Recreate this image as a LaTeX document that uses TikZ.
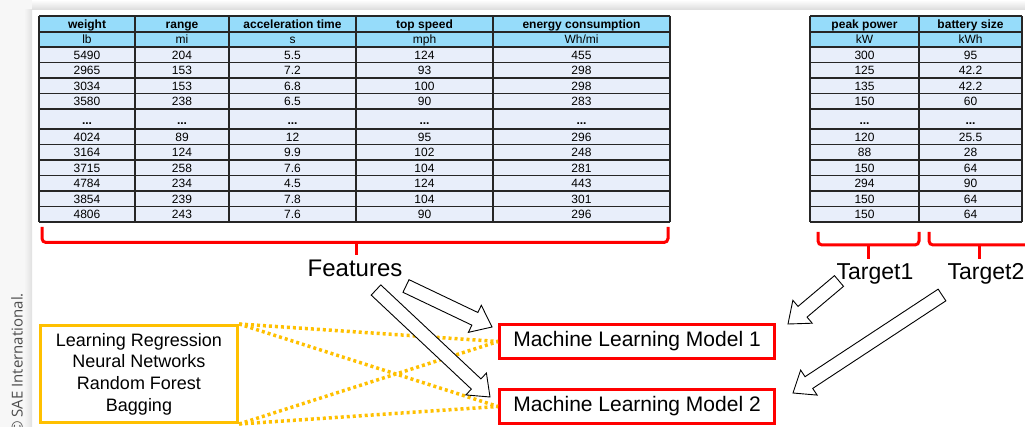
\documentclass[tikz,border=0pt]{standalone}
\usepackage{fontspec}
\setmainfont{Liberation Sans}
\newfontfamily\saefont{Open Sans}
\usetikzlibrary{calc}
\definecolor{hdblue}{RGB}{150,220,250}
\definecolor{rowblue}{RGB}{232,238,250}
\definecolor{sred}{RGB}{255,0,0}
\definecolor{sorange}{RGB}{255,192,0}
% white block arrow from #1 to #2
\newcommand\blockarrow[2]{%
  \coordinate (ah) at ($(#2)!19pt!(#1)$);
  \draw[fill=white,line width=0.9pt,line join=miter]
    ($(#1)!7pt!90:(#2)$) -- ($(ah)!7pt!-90:(#1)$) -- ($(ah)!15pt!-90:(#1)$) -- (#2)
    -- ($(ah)!15pt!90:(#1)$) -- ($(ah)!7pt!90:(#1)$) -- ($(#1)!7pt!-90:(#2)$) -- cycle;}
\begin{document}
\begin{tikzpicture}[x=1pt,y=-1pt,
    cell/.style={anchor=base,inner sep=0pt,font=\fontsize{12}{14}\selectfont},
    head/.style={cell,font=\fontsize{12}{14}\selectfont\bfseries},
    bigtext/.style={anchor=base,inner sep=0pt,font=\fontsize{24}{28}\selectfont},
    model/.style={draw=sred,line width=3pt,minimum width=275pt,minimum height=34pt,inner sep=0pt,font=\fontsize{21}{25}\selectfont},
    brace/.style={draw=sred,line width=3pt,rounded corners=4pt},
    grid/.style={draw=black!85,line width=1.3pt},
    dotline/.style={draw=sorange,line width=3.5pt,dash pattern=on 3pt off 3pt}]
  \useasboundingbox (0,0) rectangle (1025,427);
  % page margins
  \fill[black!3] (0,0) rectangle (32,427);
  \shade[left color=black!3,right color=black!12] (24,10) rectangle (32,427);
  \shade[top color=white,bottom color=black!14] (32,0) rectangle (1025,10);
  \node[rotate=90,anchor=base west,inner sep=0pt,text=black!70,font=\fontsize{15}{17}\selectfont\saefont] (sae) at (22.5,434) {© SAE International.};

  % feature table
  \fill[hdblue] (39,16) rectangle (670,47);
  \fill[rowblue] (39,47) rectangle (670,222);
  % target table
  \fill[hdblue] (810,16) rectangle (1022,47);
  \fill[rowblue] (810,47) rectangle (1022,222);
  \foreach \y in {16,32,47,62.5,78,93.5,109,129,144.5,160,175.5,191,206.5,222}{
    \draw[grid] (39,\y) -- (670,\y);
    \draw[grid] (810,\y) -- (1022,\y);
  }
  \foreach \x in {39,135,229,356,493,670,810,919,1022}
    \draw[grid] (\x,16) -- (\x,222);

  \foreach \xx/\h/\u [count=\i] in {87/weight/lb,182/range/mi,292.5/acceleration time/s,
      424.5/top speed/mph,581.5/energy consumption/{Wh/mi},864.5/peak power/kW,970.5/battery size/kWh}{
    \node[head] (h-\i) at (\xx,28.5) {\h};
    \node[cell] (u-\i) at (\xx,43.5) {\u};
    \node[head] (dots-\i) at (\xx,125) {...};
  }
  \foreach \yy/\a/\b/\c/\d/\e/\f/\g [count=\i] in {
      59.5/5490/204/5.5/124/455/300/95,
      75/2965/153/7.2/93/298/125/42.2,
      90.5/3034/153/6.8/100/298/135/42.2,
      106/3580/238/6.5/90/283/150/60,
      141.5/4024/89/12/95/296/120/25.5,
      157/3164/124/9.9/102/248/88/28,
      172.5/3715/258/7.6/104/281/150/64,
      188/4784/234/4.5/124/443/294/90,
      203.5/3854/239/7.8/104/301/150/64,
      219/4806/243/7.6/90/296/150/64}{
    \node[cell] (wt-\i) at (87,\yy) {\a};
    \node[cell] (rg-\i) at (182,\yy) {\b};
    \node[cell] (ac-\i) at (292.5,\yy) {\c};
    \node[cell] (ts-\i) at (424.5,\yy) {\d};
    \node[cell] (ec-\i) at (581.5,\yy) {\e};
    \node[cell] (pp-\i) at (864.5,\yy) {\f};
    \node[cell] (bs-\i) at (970.5,\yy) {\g};
  }

  % braces
  \draw[brace] (42,227) -- (42,242.5) -- (668,242.5) -- (668,227);
  \draw[brace] (356,242.5) -- (356,255);
  \draw[brace] (818,232) -- (818,245) -- (919,245) -- (919,232);
  \draw[brace] (868,245) -- (868,259);
  \draw[brace] (929,232) -- (929,245) -- (1040,245) -- (1040,232);
  \draw[brace] (979,245) -- (979,259);

  \node[bigtext] (feat) at (355,277) {Features};
  \node[bigtext,font=\fontsize{23}{27}\selectfont] (tg1) at (875,280) {Target1};
  \node[bigtext,font=\fontsize{23}{27}\selectfont] (tg2) at (986,280) {Target2};

  \node[model] (mlm1) at (637,341.5) {Machine Learning Model 1};
  \node[model] (mlm2) at (637,406.5) {Machine Learning Model 2};
  \node[draw=sorange,line width=3pt,minimum width=197pt,minimum height=97pt,inner sep=0pt,
    align=center,font=\fontsize{18}{21.7}\selectfont] (learn) at (139,374)
    {Learning Regression\\Neural Networks\\Random Forest\\Bagging};

  \draw[dotline] (learn.north east) -- (mlm1.west);
  \draw[dotline] (learn.north east) -- (mlm2.west);
  \draw[dotline] (learn.south east) -- (mlm1.west);
  \draw[dotline] (learn.south east) -- (mlm2.west);

  \coordinate (f1a) at (406,286);
  \coordinate (f1b) at (492,327);
  \coordinate (f2a) at (376,290);
  \coordinate (f2b) at (490,397);
  \coordinate (t1a) at (839,281);
  \coordinate (t1b) at (788,324);
  \coordinate (t2a) at (942,295);
  \coordinate (t2b) at (793,393);
  \blockarrow{f1a}{f1b}
  \blockarrow{f2a}{f2b}
  \blockarrow{t1a}{t1b}
  \blockarrow{t2a}{t2b}
\end{tikzpicture}
\end{document}
